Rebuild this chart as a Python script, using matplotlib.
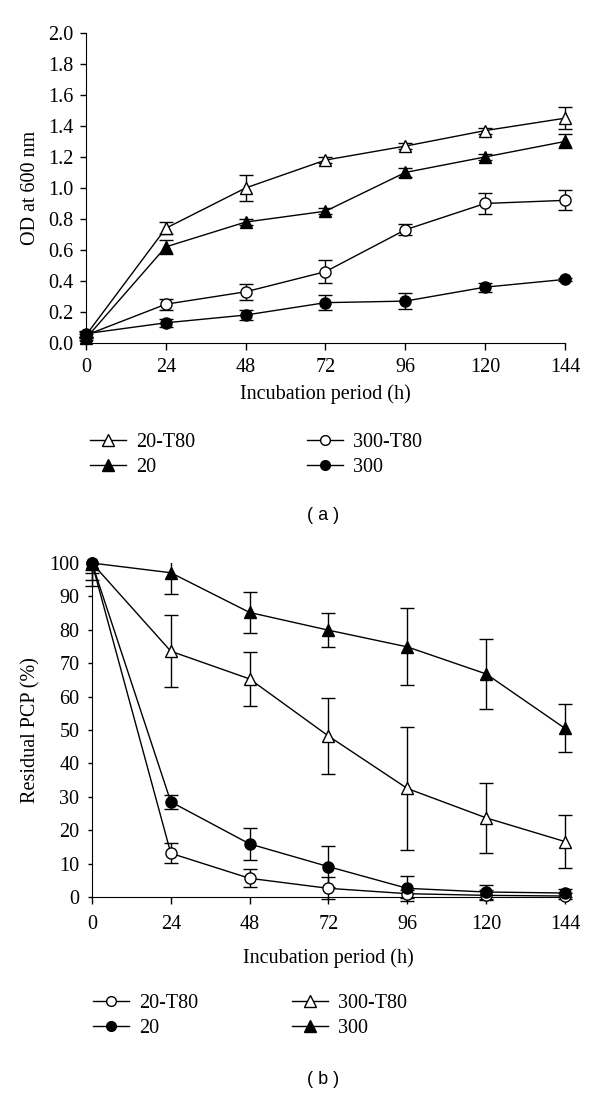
#Python code to plot OD growth and residual PCP curves
import matplotlib
matplotlib.use("Agg")
import matplotlib.pyplot as plt
from matplotlib.lines import Line2D
from matplotlib.patches import Rectangle

plt.rcParams['font.family'] = ['Liberation Serif', 'DejaVu Serif']

hours = [0, 24, 48, 72, 96, 120, 144]

# panel (a): OD at 600 nm
od_20_t80 = [0.05, 0.74, 1.00, 1.18, 1.27, 1.37, 1.45]
od_20_t80_err = [0.01, 0.04, 0.085, 0.02, 0.02, 0.02, 0.07]
od_20 = [0.03, 0.62, 0.78, 0.85, 1.10, 1.20, 1.30]
od_20_err = [0.01, 0.045, 0.02, 0.02, 0.03, 0.02, 0.045]
od_300_t80 = [0.05, 0.25, 0.33, 0.46, 0.73, 0.90, 0.92]
od_300_t80_err = [0.02, 0.035, 0.05, 0.075, 0.035, 0.07, 0.065]
od_300 = [0.06, 0.13, 0.18, 0.26, 0.27, 0.36, 0.41]
od_300_err = [0.02, 0.025, 0.035, 0.05, 0.05, 0.03, 0.01]

# panel (b): residual PCP (%)
pcp_20_t80 = [100, 13.1, 5.6, 2.6, 1.0, 0.5, 0.3]
pcp_20_t80_err = [2, 3, 2.7, 3.3, 1.2, 1.5, 0.8]
pcp_20 = [100, 28.5, 15.9, 9.1, 2.6, 1.5, 1.2]
pcp_20_err = [3, 2, 4.7, 6.2, 3.7, 2.2, 1.3]
pcp_300_t80 = [100, 73.6, 65.3, 48.2, 32.5, 23.7, 16.6]
pcp_300_t80_err = [7, 10.8, 8, 11.3, 18.3, 10.5, 8]
pcp_300 = [100, 97.1, 85.2, 79.9, 74.9, 66.8, 50.5]
pcp_300_err = [5, 6.5, 6.2, 5, 11.5, 10.4, 7.2]

FS = 14.5

fig = plt.figure(figsize=(6, 10.95), dpi=100)
ax1 = fig.add_axes([0.1433, 0.6868, 0.7983, 0.2831])
ax2 = fig.add_axes([0.1533, 0.1808, 0.7883, 0.3050])


def draw(ax, y, err, marker, filled):
    eb = ax.errorbar(hours, y, yerr=err, fmt='none', ecolor='black', elinewidth=1.0,
                     capsize=5, capthick=1.0, zorder=2)
    # clip only at the top of the plot, let caps at the side edges show
    clip = Rectangle((-0.1, -0.2), 1.2, 1.2, transform=ax.transAxes)
    for art in eb.lines[1] + eb.lines[2]:
        art.set_clip_path(clip)
    ax.plot(hours, y, color='black', lw=1.0, marker=marker, ms=8 if marker == 'o' else 9,
            mfc='black' if filled else 'white', mec='black', mew=1.0,
            clip_on=False, zorder=3)


def handle(marker, filled):
    return Line2D([], [], color='black', lw=1.0, marker=marker,
                  ms=7 if marker == 'o' else 8,
                  mfc='black' if filled else 'white', mec='black', mew=1.0)


draw(ax1, od_20_t80, od_20_t80_err, '^', False)
draw(ax1, od_20, od_20_err, '^', True)
draw(ax1, od_300_t80, od_300_t80_err, 'o', False)
draw(ax1, od_300, od_300_err, 'o', True)

draw(ax2, pcp_20_t80, pcp_20_t80_err, 'o', False)
draw(ax2, pcp_20, pcp_20_err, 'o', True)
draw(ax2, pcp_300_t80, pcp_300_t80_err, '^', False)
draw(ax2, pcp_300, pcp_300_err, '^', True)

for ax in (ax1, ax2):
    ax.spines['top'].set_visible(False)
    ax.spines['right'].set_visible(False)
    ax.set_xlim(0, 144)
    ax.set_xticks(hours)
    ax.tick_params(direction='out', labelsize=FS, width=1.0)

ax1.set_ylim(0, 2.0)
ax1.set_yticks([i * 0.2 for i in range(11)])
ax1.set_yticklabels(["%.1f" % (i * 0.2) for i in range(11)])
ax1.tick_params(axis='x', length=5, pad=6)
ax1.tick_params(axis='y', length=4, pad=5)
ax1.set_xlabel("Incubation period (h)", fontsize=FS)
ax1.set_ylabel("OD at 600 nm", fontsize=FS)
ax1.xaxis.set_label_coords(0.5, -0.132)
ax1.yaxis.set_label_coords(-0.096, 0.5)

ax2.set_ylim(0, 100)
ax2.set_yticks(range(0, 101, 10))
ax2.tick_params(axis='x', length=5, pad=8)
ax2.tick_params(axis='y', length=3, pad=6)
ax2.set_xlabel("Incubation period (h)", fontsize=FS)
ax2.set_ylabel("Residual PCP (%)", fontsize=FS)
ax2.xaxis.set_label_coords(0.5, -0.153)
ax2.yaxis.set_label_coords(-0.108, 0.5)

leg_kw = dict(frameon=False, fontsize=FS, handlelength=1.8, handletextpad=0.5,
              labelspacing=0.3, borderaxespad=0, borderpad=0)

# panel (a) legends
fig.legend([handle('^', False), handle('^', True)], ["20-T80", "20"],
           loc='center left', bbox_to_anchor=(90 / 600, 1 - 455 / 1095), **leg_kw)
fig.legend([handle('o', False), handle('o', True)], ["300-T80", "300"],
           loc='center left', bbox_to_anchor=(307 / 600, 1 - 455 / 1095), **leg_kw)
# panel (b) legends
fig.legend([handle('o', False), handle('o', True)], ["20-T80", "20"],
           loc='center left', bbox_to_anchor=(93 / 600, 1 - 1016 / 1095), **leg_kw)
fig.legend([handle('^', False), handle('^', True)], ["300-T80", "300"],
           loc='center left', bbox_to_anchor=(292 / 600, 1 - 1016 / 1095), **leg_kw)

fig.text(323 / 600, 1 - 515 / 1095, "( a )", ha='center', va='center', fontsize=13,
         family=['Liberation Sans', 'DejaVu Sans'])
fig.text(323 / 600, 1 - 1080 / 1095, "( b )", ha='center', va='center', fontsize=13,
         family=['Liberation Sans', 'DejaVu Sans'])

fig.savefig("out.png", dpi=100)
